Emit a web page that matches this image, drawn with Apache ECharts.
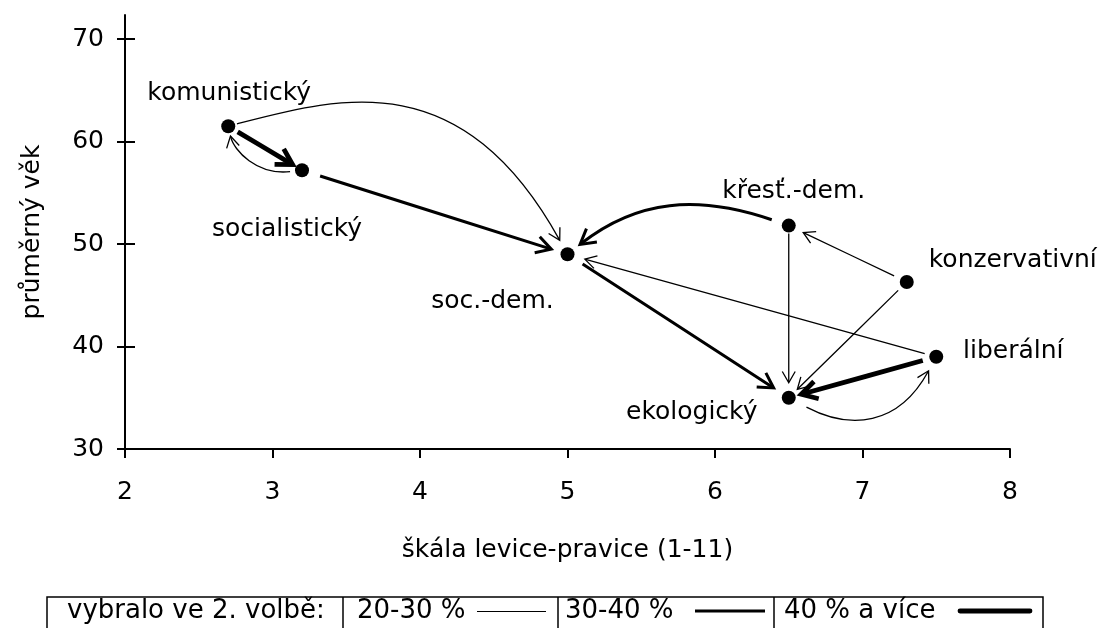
<!DOCTYPE html>
<html><head><meta charset="utf-8">
<script src="https://cdn.jsdelivr.net/npm/echarts@6/dist/echarts.min.js"></script>
<style>html,body{margin:0;padding:0;background:#fff}#c{width:1105px;height:628px}</style>
</head><body><div id="c"></div>
<script>
// ---- data ----
const parties   = ['komunistický','socialistický','soc.-dem.','křesť.-dem.','konzervativní','liberální','ekologický'];
const leftRight = [2.7, 3.2, 5.0, 6.5, 7.3, 7.5, 6.5];
const avgAge    = [61.5, 57.2, 49.0, 51.8, 46.3, 39.0, 35.0];
const xTicks = [2,3,4,5,6,7,8];
const yTicks = [30,40,50,60,70];
// second-round transitions: from party, to party, share class (0: 20-30 %, 1: 30-40 %, 2: 40 % a více)
const flowFrom  = [0,0,1,1,3,3,4,4,5,5,6,2];
const flowTo    = [2,1,0,2,2,6,3,6,2,6,5,6];
const flowClass = [0,2,0,1,1,0,0,0,0,2,0,1];
const legendTitle  = 'vybralo ve 2. volbě:';
const classLabels  = ['20-30 %','30-40 %','40 % a více'];
const xName = 'škála levice-pravice (1-11)';
const yName = 'průměrný věk';

// ---- styles ----
const FONT = 'DejaVu Sans';
const FS = 25;
const INK = '#000';
const classWidth = [1.3, 3, 4.8];
const headLen = [13, 17, 18];
// per flow: [t1, o1, t2, o2, startGap, endGap] control points relative to the chord
const flowShape = [
  [0.26, 0.184, 0.54, 0.39, 9, 16],
  [1/3, 0, 2/3, 0, 11, 11],
  [0.42, 0.32, 0.8, 0.21, 12, 10],
  [1/3, 0, 2/3, 0, 19, 17],
  [0.387, -0.191, 0.659, -0.203, 18, 16],
  [1/3, 0, 2/3, 0, 8, 15],
  [1/3, 0, 2/3, 0, 14, 16],
  [1/3, 0, 2/3, 0, 12, 12],
  [1/3, 0, 2/3, 0, 12, 18],
  [1/3, 0, 2/3, 0, 14, 13],
  [0.33, -0.31, 0.64, -0.37, 20, 16],
  [1/3, 0, 2/3, 0, 18, 18]
];
const labelOffsets = [[1,-33],[-15,59],[-75,47],[5,-34],[106,-21],[77,-5],[-97,15]];

function renderFlow(params, api) {
  const p0 = api.coord([api.value(0), api.value(1)]);
  const p3 = api.coord([api.value(2), api.value(3)]);
  const cls = api.value(4), k = api.value(5);
  const s = flowShape[k];
  const dx = p3[0]-p0[0], dy = p3[1]-p0[1], L = Math.hypot(dx, dy);
  const ux = dx/L, uy = dy/L, nx = uy, ny = -ux;
  const c1 = [p0[0]+ux*s[0]*L+nx*s[1]*L, p0[1]+uy*s[0]*L+ny*s[1]*L];
  const c2 = [p0[0]+ux*s[2]*L+nx*s[3]*L, p0[1]+uy*s[2]*L+ny*s[3]*L];
  const unit = (a, b) => { const vx=b[0]-a[0], vy=b[1]-a[1], l=Math.hypot(vx,vy); return [vx/l, vy/l]; };
  const sd = unit(p0, c1), ed = unit(p3, c2);
  const start = [p0[0]+sd[0]*s[4], p0[1]+sd[1]*s[4]];
  const tip = [p3[0]+ed[0]*s[5], p3[1]+ed[1]*s[5]];
  const w = classWidth[cls];
  const hl = headLen[cls], ang = 0.52;
  const rot = (x, y, a) => [x*Math.cos(a)-y*Math.sin(a), x*Math.sin(a)+y*Math.cos(a)];
  const b1 = rot(ed[0], ed[1], ang), b2 = rot(ed[0], ed[1], -ang);
  const end = [tip[0]+ed[0]*w*0.6, tip[1]+ed[1]*w*0.6];
  return {type:'group', children:[
    {type:'bezierCurve', shape:{x1:start[0], y1:start[1], x2:end[0], y2:end[1],
      cpx1:c1[0], cpy1:c1[1], cpx2:c2[0], cpy2:c2[1]},
      style:{stroke:'#000', lineWidth:w, fill:null}},
    {type:'polyline', shape:{points:[[tip[0]+b1[0]*hl, tip[1]+b1[1]*hl], tip, [tip[0]+b2[0]*hl, tip[1]+b2[1]*hl]]},
      style:{stroke:'#000', lineWidth:w, fill:null, lineJoin:'miter'}}
  ]};
}

const flowData = flowFrom.map((f, i) => [leftRight[f], avgAge[f], leftRight[flowTo[i]], avgAge[flowTo[i]], flowClass[i], i]);
const dotData = parties.map((p, i) => ({name:p, value:[leftRight[i], avgAge[i]], label:{offset:labelOffsets[i]}}));

// legend table (graphic)
const LT = 597, LB = 650, LX = [47, 343, 558, 774, 1043], LY = 611;
const LFS = 26;
const textStyle = (t, x) => ({type:'text', style:{text:t, x:x, y:LY, fontSize:LFS, fontFamily:FONT, fill:INK, verticalAlign:'middle'}});
const legendGraphic = [
  {type:'rect', shape:{x:LX[0], y:LT, width:LX[4]-LX[0], height:LB-LT}, style:{fill:'#fff', stroke:'#000', lineWidth:1.5}},
  ...[1,2,3].map(i => ({type:'line', shape:{x1:LX[i], y1:LT, x2:LX[i], y2:LB}, style:{stroke:'#000', lineWidth:1.5}})),
  textStyle(legendTitle, 67),
  textStyle(classLabels[0], 357),
  textStyle(classLabels[1], 565),
  textStyle(classLabels[2], 784),
  {type:'line', shape:{x1:477, y1:LY+0.5, x2:546, y2:LY+0.5}, style:{stroke:'#000', lineWidth:1}},
  {type:'line', shape:{x1:695, y1:LY, x2:765, y2:LY}, style:{stroke:'#000', lineWidth:classWidth[1]}},
  {type:'line', shape:{x1:960, y1:LY, x2:1030, y2:LY}, style:{stroke:'#000', lineWidth:classWidth[2], lineCap:'round'}}
];

const chart = echarts.init(document.getElementById('c'), null, {renderer:'canvas'});
chart.setOption({
  animation:false,
  backgroundColor:'#fff',
  grid:{left:125, right:95, top:15, bottom:179},
  xAxis:{
    type:'value', min:2, max:8, interval:1,
    name:xName, nameLocation:'middle', nameGap:89,
    nameTextStyle:{fontSize:FS, fontFamily:FONT, color:INK},
    axisLine:{show:true, lineStyle:{color:'#000', width:2}},
    axisTick:{show:true, length:9, lineStyle:{color:'#000', width:2}, customValues:xTicks},
    axisLabel:{margin:31, fontSize:FS, fontFamily:FONT, color:INK, customValues:xTicks},
    splitLine:{show:false}
  },
  yAxis:[{
    type:'value', min:30, max:72.35,
    name:yName, nameLocation:'middle', nameGap:80, nameRotate:90,
    nameTextStyle:{fontSize:FS, fontFamily:FONT, color:INK},
    axisLine:{show:true, lineStyle:{color:'#000', width:2}},
    axisTick:{show:true, length:8, lineStyle:{color:'#000', width:2}, customValues:yTicks},
    axisLabel:{margin:21, fontSize:FS, fontFamily:FONT, color:INK, customValues:yTicks},
    splitLine:{show:false}
  },{
    type:'value', min:30, max:72.35, position:'left', offset:0,
    axisLine:{show:false},
    axisTick:{show:true, inside:true, length:10, lineStyle:{color:'#000', width:2}, customValues:yTicks},
    axisLabel:{show:false},
    splitLine:{show:false}
  }],
  graphic:legendGraphic,
  series:[
    {type:'custom', renderItem:renderFlow, data:flowData, encode:{x:[0,2], y:[1,3]}, clip:false, silent:true, z:2},
    {type:'scatter', data:dotData, symbol:'circle', symbolSize:14, itemStyle:{color:'#000', opacity:1}, z:3, silent:true,
      label:{show:true, position:'inside', formatter:p=>p.name, fontSize:FS, fontFamily:FONT, color:INK, opacity:1}}
  ]
});
</script></body></html>
